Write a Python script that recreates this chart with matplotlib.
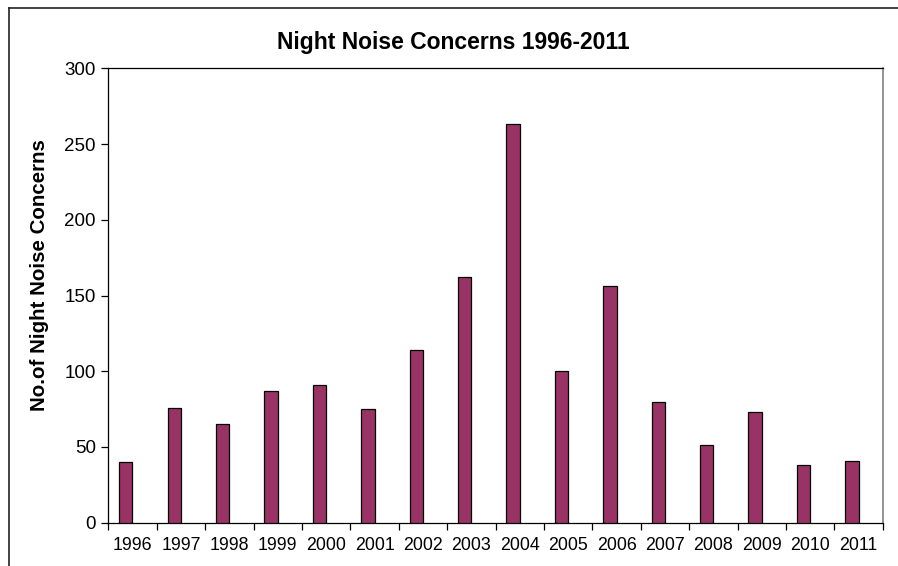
import numpy as np
import matplotlib
matplotlib.use("Agg")
import matplotlib.pyplot as plt
from matplotlib.lines import Line2D

years = ["1996", "1997", "1998", "1999", "2000", "2001", "2002", "2003",
         "2004", "2005", "2006", "2007", "2008", "2009", "2010", "2011"]
concerns = [40, 76, 65, 87, 91, 75, 114, 162, 263, 100, 156, 80, 51, 73, 38, 41]

plt.rcParams["font.family"] = ["Liberation Sans", "DejaVu Sans"]

fig = plt.figure(figsize=(8.98, 5.66), dpi=100)
ax = fig.add_axes([0.1206, 0.0765, 0.8624, 0.8028])

x = np.arange(len(years))
ax.bar(x - 0.1375, concerns, width=0.275, color="#993366",
       edgecolor="black", linewidth=0.9, zorder=3)

ax.set_xlim(-0.5, len(years) - 0.5)
ax.set_ylim(0, 300)
ax.set_yticks(np.arange(0, 301, 50))

# year labels at category centres, tick marks on the category boundaries
ax.set_xticks(x)
ax.set_xticklabels(years)
ax.set_xticks(np.arange(-0.5, len(years)), minor=True)
ax.tick_params(axis="x", which="major", length=0, pad=10.5, labelsize=12.8)
ax.tick_params(axis="x", which="minor", length=5, width=0.9, direction="out")
ax.tick_params(axis="y", length=5, width=0.9, direction="out", pad=4,
               labelsize=13.5)

for side in ("left", "bottom", "top"):
    ax.spines[side].set_color("black")
    ax.spines[side].set_linewidth(0.9)
ax.spines["right"].set_color("#808080")
ax.spines["right"].set_linewidth(1.2)

ax.set_ylabel("No.of Night Noise Concerns", fontsize=14.8, fontweight="bold")
ax.yaxis.set_label_coords(-0.0765, 0.544)

fig.text(0.505, 0.925, "Night Noise Concerns 1996-2011", ha="center",
         va="center", fontsize=16.5, fontweight="bold")

# chart-area border (left and top edges)
x0, y0 = 9 / 898, 1 - 7.5 / 566
fig.add_artist(Line2D([x0, x0], [y0, -0.05], transform=fig.transFigure,
                      color="#222222", linewidth=1.2))
fig.add_artist(Line2D([x0, 1.05], [y0, y0], transform=fig.transFigure,
                      color="#222222", linewidth=1.2))

fig.savefig("out.png", dpi=100)
